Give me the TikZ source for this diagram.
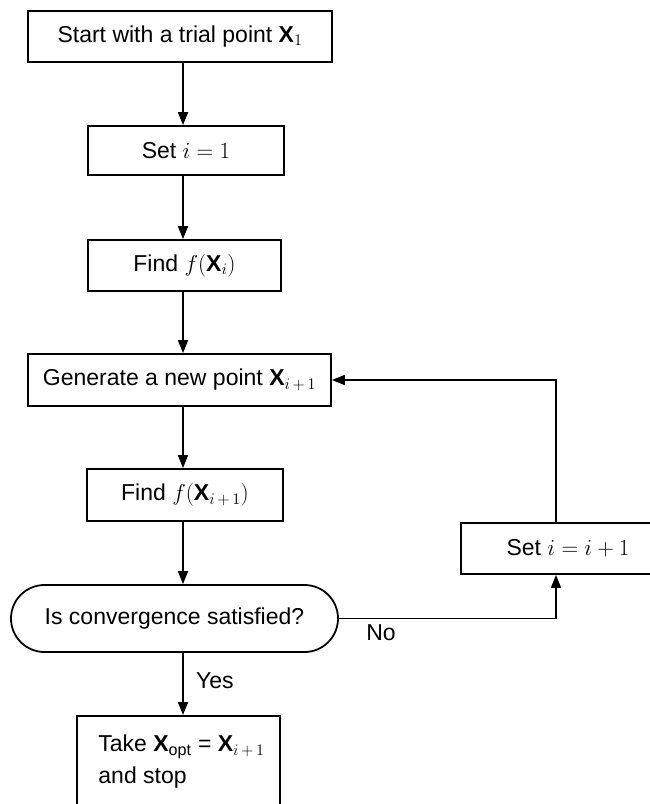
\RequirePackage{fix-cm}
\documentclass[tikz,border=0pt]{standalone}
\usepackage{amsmath}
\usepackage{fontspec}
\setsansfont{Liberation Sans}
\usetikzlibrary{arrows.meta,shapes.misc}
\begin{document}
\begin{tikzpicture}[x=1pt,y=-1pt,
  box/.style={draw,line width=1.8pt,rectangle,inner sep=0pt,font=\sffamily\fontsize{23}{32}\selectfont},
  flow/.style={line width=1.8pt,-{Triangle[length=13pt,width=10pt]}},
  lbl/.style={font=\sffamily\fontsize{23}{28}\selectfont,inner sep=0pt}]
\useasboundingbox (0,0) rectangle (650,804);
\clip (0,0) rectangle (650,804);
\node[box,minimum width=304pt,minimum height=51pt] (start) at (180,36.5) {Start with a trial point \textbf{X}$_1$};
\node[box,minimum width=196pt,minimum height=49pt] (set1) at (186,150.5) {Set $i=1$};
\node[box,minimum width=193pt,minimum height=51pt] (find1) at (184.5,265.5) {Find $f($\textbf{X}$_i)$};
\node[box,minimum width=303pt,minimum height=52pt] (gen) at (179.5,380) {Generate a new point \textbf{X}$_{i\,+\,1}$};
\node[box,minimum width=196pt,minimum height=52pt] (find2) at (185,495) {Find $f($\textbf{X}$_{i\,+\,1})$};
\node[box,shape=rounded rectangle,minimum width=327pt,minimum height=67pt] (conv) at (174.5,618.5) {Is convergence satisfied?};
\node[box,anchor=north,minimum width=203pt,minimum height=92pt,align=left] (take) at (178.5,715) {\hspace*{6pt}Take \textbf{X}$_{\text{opt}}$ = \textbf{X}$_{i\,+\,1}$\\\hspace*{6pt}and stop};
\node[box,minimum width=214pt,minimum height=51pt] (setn) at (568,548.5) {Set $i=i+1$};
\coordinate (col) at (183,0);
\coordinate (lx) at (556,0);
\draw[flow] (start.south -| col) -- (set1.north -| col);
\draw[flow] (set1.south -| col) -- (find1.north -| col);
\draw[flow] (find1.south -| col) -- (gen.north -| col);
\draw[flow] (gen.south -| col) -- (find2.north -| col);
\draw[flow] (find2.south -| col) -- (conv.north -| col);
\draw[flow] (conv.south -| col) -- (take.north -| col);
\node[lbl,anchor=west] (yes) at (196,681) {Yes};
\draw[flow] (conv.east) -- (conv.east -| lx) -- (setn.south -| lx);
\node[lbl] (no) at (381,633) {No};
\draw[flow] (setn.north -| lx) |- (gen.east);
\end{tikzpicture}
\end{document}
